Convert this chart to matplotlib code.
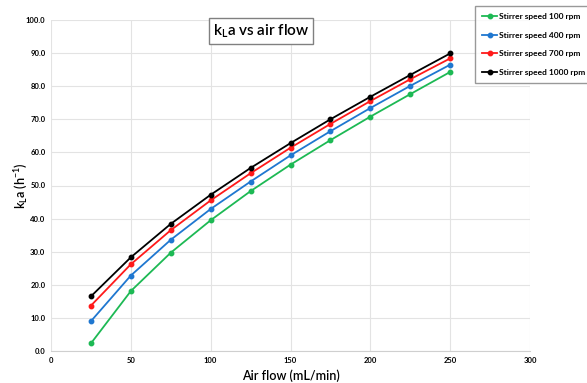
import matplotlib
matplotlib.use("Agg")
import matplotlib.pyplot as plt

plt.rcParams['font.family'] = ['Lato', 'DejaVu Sans']

air_flow = [25, 50, 75, 100, 125, 150, 175, 200, 225, 250]
speed_100 = [2.3, 18.1, 29.7, 39.5, 48.3, 56.3, 63.7, 70.8, 77.6, 84.3]
speed_400 = [9.0, 22.8, 33.6, 42.9, 51.2, 59.1, 66.4, 73.4, 80.1, 86.5]
speed_700 = [13.7, 26.2, 36.5, 45.5, 53.7, 61.4, 68.6, 75.5, 82.1, 88.4]
speed_1000 = [16.5, 28.3, 38.4, 47.2, 55.3, 62.8, 70.0, 76.8, 83.4, 89.9]
labels = ['Stirrer speed 100 rpm', 'Stirrer speed 400 rpm',
          'Stirrer speed 700 rpm', 'Stirrer speed 1000 rpm']
colors = ['#1DB954', '#1F77D0', '#FF1A1A', '#000000']
series = [speed_100, speed_400, speed_700, speed_1000]
x_ticks = [0, 50, 100, 150, 200, 250, 300]
y_ticks = [0, 10, 20, 30, 40, 50, 60, 70, 80, 90, 100]

fig = plt.figure(figsize=(5.87, 3.83), dpi=100)
ax = fig.add_axes([51/587, 32/383, 479/587, 331/383])

for ys, lab, c in zip(series, labels, colors):
    ax.plot(air_flow, ys, color=c, lw=1.3, marker='o', ms=3.2, label=lab, zorder=3)

ax.set_xlim(0, 300)
ax.set_ylim(0, 100)
ax.set_xticks(x_ticks)
ax.set_yticks(y_ticks)
ax.set_xticklabels([str(t) for t in x_ticks])
ax.set_yticklabels([f"{t:.1f}" for t in y_ticks])
ax.grid(True, color='#e3e3e3', lw=0.8)
ax.set_axisbelow(True)
for s in ['top', 'right', 'left']:
    ax.spines[s].set_visible(False)
ax.spines['bottom'].set_color('#cfcfcf')
ax.tick_params(length=0, labelsize=5.5, pad=4)
for lbl in ax.get_xticklabels() + ax.get_yticklabels():
    lbl.set_fontweight('bold')

ax.set_xlabel('Air flow (mL/min)', fontsize=9, labelpad=4, fontweight='semibold')
ax.set_ylabel(r'k$_\mathregular{L}$a (h$^\mathregular{-1}$)', fontsize=9, labelpad=-3,
              fontweight='semibold')

fig.text(261/587, 1 - 31/383, r'k$_\mathregular{L}$a vs air flow', fontsize=11,
         ha='center', va='center', fontweight='semibold',
         bbox=dict(boxstyle='square,pad=0.25', fc='white', ec='#808080', lw=1))

leg = fig.legend(loc='upper left', bbox_to_anchor=(475/587, 1 - 6/383),
                 fontsize=6.0, frameon=True, fancybox=False, edgecolor='#808080',
                 handlelength=1.8, handletextpad=0.2, labelspacing=1.4,
                 borderpad=0.85, borderaxespad=0)
leg.get_frame().set_linewidth(1)
for t in leg.get_texts():
    t.set_fontweight('bold')

fig.savefig('out.png', dpi=100)
